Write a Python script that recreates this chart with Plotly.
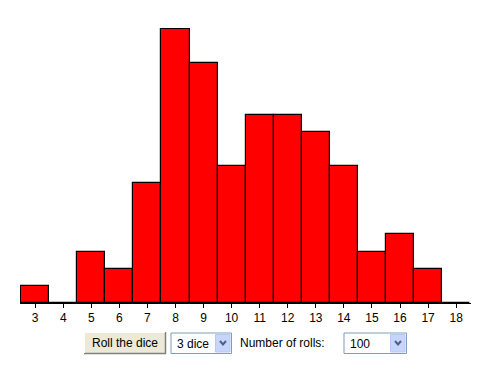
import plotly.graph_objects as go

sums = list(range(3, 19))
counts = [1, 0, 3, 2, 7, 16, 14, 8, 11, 11, 10, 8, 3, 4, 2, 0]
tick_labels = [str(s) for s in sums]

# The page body has an 8px default margin, so the figure is drawn 8px in.
OFF = 8
W, H = 489 - OFF, 370 - OFF
L, R, T, B = 20 - OFF, 18, 28 - OFF, 67
PW = W - L - R
PH = H - T - B
FONT = "Liberation Sans"

def px(x):
    return (x - OFF - L) / PW

def py(y):
    return (H - B - (y - OFF)) / PH

fig = go.Figure(go.Bar(
    x=sums, y=counts, width=1,
    marker=dict(color="#FF0000", line=dict(color="#000000", width=1.2)),
    hoverinfo="x+y",
))

shapes = []
annots = []

# Button "Roll the dice"
shapes.append(dict(type="rect", xref="paper", yref="paper",
                   x0=px(84), x1=px(166), y0=py(354), y1=py(332),
                   fillcolor="#ECE9D8", line=dict(color="#ECE9D8", width=0), layer="above"))
shapes.append(dict(type="line", xref="paper", yref="paper",
                   x0=px(84), x1=px(166), y0=py(353.5), y1=py(353.5),
                   line=dict(color="#808080", width=1.5)))
shapes.append(dict(type="line", xref="paper", yref="paper",
                   x0=px(165.5), x1=px(165.5), y0=py(354), y1=py(332),
                   line=dict(color="#808080", width=1.5)))
shapes.append(dict(type="line", xref="paper", yref="paper",
                   x0=px(84), x1=px(165), y0=py(332.5), y1=py(332.5),
                   line=dict(color="#FFFFFF", width=1)))
shapes.append(dict(type="line", xref="paper", yref="paper",
                   x0=px(84.5), x1=px(84.5), y0=py(353), y1=py(332),
                   line=dict(color="#FFFFFF", width=1)))
annots.append(dict(xref="paper", yref="paper", x=px(125), y=py(343),
                   text="Roll the dice", showarrow=False, xanchor="center", yanchor="middle",
                   font=dict(family=FONT, size=12, color="#000000")))

def dropdown(x0, x1, text):
    shapes.append(dict(type="rect", xref="paper", yref="paper",
                       x0=px(x0), x1=px(x1), y0=py(353.5), y1=py(333),
                       fillcolor="#FFFFFF", line=dict(color="#7F9DB9", width=1)))
    shapes.append(dict(type="rect", xref="paper", yref="paper",
                       x0=px(x1 - 16), x1=px(x1 - 1.5), y0=py(352), y1=py(334.5),
                       fillcolor="#C6D6FB", line=dict(color="#B4C8F6", width=1)))
    cx = x1 - 8.5
    cy = 343
    path = "M {:.5f},{:.5f} L {:.5f},{:.5f} L {:.5f},{:.5f}".format(
        px(cx - 3), py(cy - 2), px(cx), py(cy + 1.5), px(cx + 3), py(cy - 2))
    shapes.append(dict(type="path", xref="paper", yref="paper", path=path,
                       line=dict(color="#4D6185", width=2)))
    annots.append(dict(xref="paper", yref="paper", x=px(x0 + 4), y=py(343.5),
                       text=text, showarrow=False, xanchor="left", yanchor="middle",
                       font=dict(family=FONT, size=12, color="#000000")))

dropdown(171, 231.5, "3 dice")
dropdown(344, 406.5, "100")
annots.append(dict(xref="paper", yref="paper", x=px(238), y=py(343),
                   text="Number of rolls:", showarrow=False, xanchor="left", yanchor="middle",
                   font=dict(family=FONT, size=12, color="#000000")))

fig.update_layout(
    width=W, height=H,
    margin=dict(l=L, r=R, t=T, b=B),
    paper_bgcolor="#FFFFFF", plot_bgcolor="#FFFFFF",
    showlegend=False,
    bargap=0,
    shapes=shapes,
    annotations=annots,
    xaxis=dict(
        range=[2.46, 18.53],
        tickmode="array", tickvals=sums, ticktext=tick_labels,
        ticks="outside", ticklen=4, tickcolor="#000000", tickwidth=1,
        showline=True, linecolor="#000000", linewidth=1,
        showgrid=False, zeroline=False, fixedrange=True,
        tickfont=dict(family=FONT, size=12, color="#000000"),
    ),
    yaxis=dict(
        range=[0, 16.05], visible=False, showgrid=False, zeroline=False, fixedrange=True,
    ),
)

fig.write_html("out.html")
